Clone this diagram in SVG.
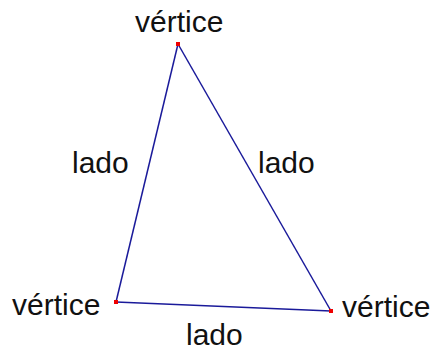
<svg xmlns="http://www.w3.org/2000/svg" width="436" height="351" viewBox="0 0 436 351">
<style>
text{font-family:"Liberation Sans",Arial,sans-serif;font-size:30px;fill:#111}
.side{stroke:#1a1a9a;stroke-width:1.5;fill:none}
.pt{fill:#e00}
</style>
<rect width="436" height="351" fill="#fff"/>
<g id="connectors">
<line class="side" x1="178" y1="44" x2="116" y2="302"/>
<line class="side" x1="178" y1="44" x2="331" y2="311"/>
<line class="side" x1="116" y1="302" x2="331" y2="311"/>
</g>
<g id="v-top"><rect class="pt" x="176" y="42" width="4" height="4"/><text x="135" y="32">vértice</text></g>
<g id="v-left"><rect class="pt" x="114" y="300" width="4" height="4"/><text x="12" y="315">vértice</text></g>
<g id="v-right"><rect class="pt" x="329" y="309" width="4" height="4"/><text x="342" y="317">vértice</text></g>
<g id="l-left"><text x="72" y="173">lado</text></g>
<g id="l-right"><text x="258" y="173">lado</text></g>
<g id="l-bottom"><text x="186" y="345">lado</text></g>
</svg>
